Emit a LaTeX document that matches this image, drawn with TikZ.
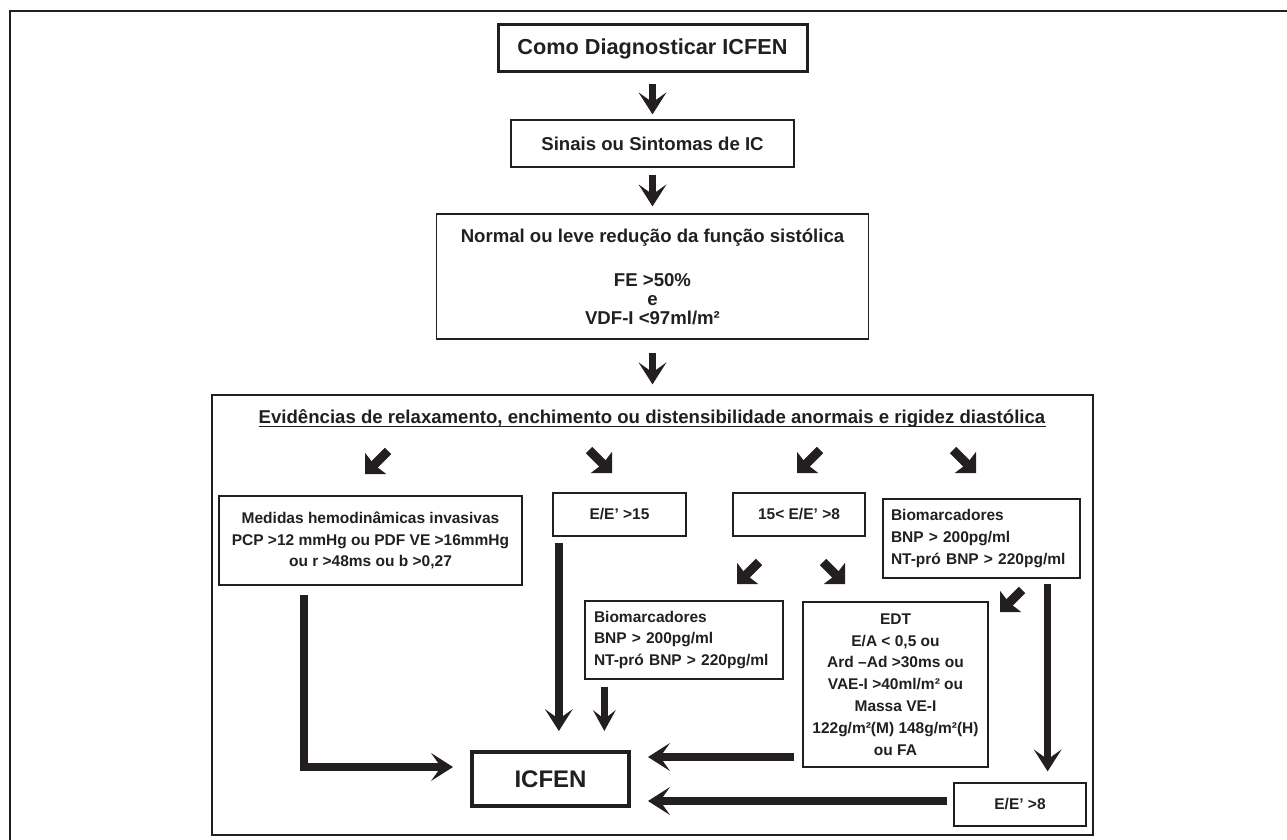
\documentclass[tikz,border=0pt]{standalone}
\usepackage{fontspec}
\setmainfont{Liberation Sans}
\usetikzlibrary{arrows.meta,calc}
\definecolor{ink}{RGB}{35,31,32}
\newcommand{\fsz}[2]{\fontsize{#1}{#2}\selectfont}
\begin{document}
\begin{tikzpicture}[x=1pt,y=-1pt,
  box/.style={draw=ink, line width=1.3pt, text=ink, font=\bfseries\fsz{15.5}{21.8}, align=center, inner sep=0pt},
  bigarr/.style={draw=ink, line width=7.5pt, -{Stealth[length=22pt,width=28pt,inset=10pt,line width=0pt]}},
  diagarr/.style={draw=ink, line width=9pt, -{Stealth[length=15pt,width=30pt,inset=2pt,line width=0pt]}}
]
\useasboundingbox (0,0) rectangle (1287,840);
% outer frame (top and left only)
\draw[ink, line width=2pt] (9.5,840) -- (9.5,11) -- (1287,11);

% top boxes
\node[box, line width=3pt, font=\bfseries\fsz{21.7}{26}, minimum width=309pt, minimum height=47pt] (title) at (652.5,48.5) {Como Diagnosticar ICFEN};
\node[box, font=\bfseries\fsz{18.6}{22}, minimum width=283pt, minimum height=47pt] (sinais) at (652.5,143.5) {Sinais ou Sintomas de IC};
\node[box, font=\bfseries\fsz{18.6}{19}, minimum width=432pt, minimum height=125pt] (normal) at (652.5,276.5) {Normal ou leve redução da função sistólica\\[25pt] FE >50\%\\ e\\ VDF-I <97ml/m²};

% big frame
\node[draw=ink, line width=1.3pt, minimum width=881pt, minimum height=440pt, inner sep=0pt] (frame) at (652.5,615) {};
\node[text=ink, font=\bfseries\fsz{18.6}{22}, inner sep=0pt] (header) at (652,419) {Evidências de relaxamento, enchimento ou distensibilidade anormais e rigidez diastólica};
\draw[ink, line width=1.6pt] ([yshift=-2.5pt]header.base west) -- ([yshift=-2.5pt]header.base east);

% inner boxes
\node[box, minimum width=303pt, minimum height=89pt] (medidas) at (370.5,540.5) {Medidas hemodinâmicas invasivas\\ PCP >12 mmHg ou PDF VE >16mmHg\\ ou r >48ms ou b >0,27};
\node[box, minimum width=133pt, minimum height=43pt] (ee15) at (619.5,514.5) {E/E’ >15};
\node[box, minimum width=132pt, minimum height=43pt] (ee158) at (799,514.5) {15< E/E’ >8};
\node[box, align=left, text width=181pt, inner xsep=8pt, minimum height=79pt] (bio1) at (981.5,538.5) {Biomarcadores\\ BNP > 200pg/ml\\ NT-pró BNP > 220pg/ml};
\node[box, align=left, text width=180pt, inner xsep=9pt, minimum height=78pt] (bio2) at (684,640) {Biomarcadores\\ BNP > 200pg/ml\\ NT-pró BNP > 220pg/ml};
\node[box, minimum width=185pt, minimum height=165pt] (edt) at (895.5,684.5) {EDT\\ E/A < 0,5 ou\\ Ard –Ad >30ms ou\\ VAE-I >40ml/m² ou\\ Massa VE-I\\ 122g/m²(M) 148g/m²(H)\\ ou FA};
\node[box, line width=4pt, font=\bfseries\fsz{24}{28}, minimum width=157pt, minimum height=54pt] (icfen) at (550.5,779) {ICFEN};
\node[box, minimum width=132pt, minimum height=43pt] (ee8) at (1020,804.5) {E/E’ >8};

% top vertical arrows
\draw[bigarr, line width=7pt, shorten <=11pt, shorten >=5pt] (title) -- (sinais);
\draw[bigarr, line width=7pt, shorten <=7pt, shorten >=7pt] (sinais) -- (normal);
\draw[bigarr, line width=7pt, shorten <=13pt, shorten >=10pt] (normal) -- (frame.north);

% diagonal arrows
\coordinate (d1s) at (388,451); \coordinate (d1e) at (365,474);
\coordinate (d2s) at (589,450); \coordinate (d2e) at (612,473);
\coordinate (d3s) at (820,450); \coordinate (d3e) at (797,473);
\coordinate (d4s) at (953,450); \coordinate (d4e) at (976,473);
\coordinate (d5s) at (759,562); \coordinate (d5e) at (737,584);
\coordinate (d6s) at (823,562); \coordinate (d6e) at (845,584);
\coordinate (d7s) at (1022,590); \coordinate (d7e) at (1000,612);
\foreach \i in {1,...,7} {\draw[diagarr] (d\i s) -- (d\i e);}

% connectors to ICFEN / E/E' >8
\draw[bigarr, shorten <=6pt, shorten >=19pt] ([xshift=6.5pt]ee15.south west) -- ([xshift=6.5pt]ee15.south west |- icfen.north);
\draw[bigarr, -{Stealth[length=21pt,width=23pt,inset=9pt,line width=0pt]}, shorten <=7pt, shorten >=19pt] ([xshift=20pt]bio2.south west) -- ([xshift=20pt]bio2.south west |- icfen.north);
\draw[bigarr, shorten <=5pt, shorten >=11pt] ([xshift=-33pt]bio1.south east) -- ([xshift=-33pt]bio1.south east |- ee8.north);
\draw[bigarr, line width=8pt, line join=miter, shorten <=9pt, shorten >=17pt] ([xshift=86pt]medidas.south west) |- ([yshift=12pt]icfen.west);
\draw[bigarr, line width=8pt, shorten <=8pt, shorten >=17pt] ([yshift=-72.5pt]edt.west) -- ([yshift=-72.5pt]edt.west -| icfen.east);
\draw[bigarr, line width=8pt, shorten <=6pt, shorten >=17pt] ([yshift=3.5pt]ee8.west) -- ([yshift=3.5pt]ee8.west -| icfen.east);
\end{tikzpicture}
\end{document}
